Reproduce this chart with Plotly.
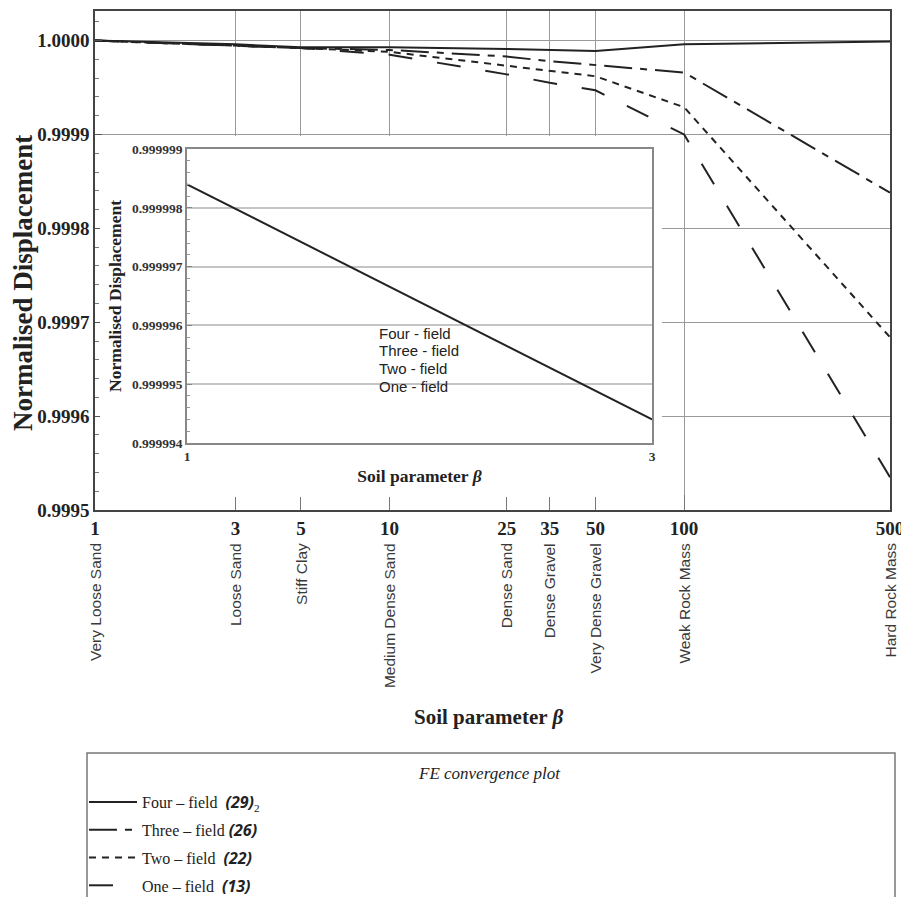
import numpy as np
import plotly.graph_objects as go

W, H = 901, 897

# ---------------- data ----------------
beta = [1, 3, 5, 10, 25, 35, 50, 100, 500]
beta_ticktext = ["1", "3", "5", "10", "25", "35", "50", "100", "500"]
soil_types = ["Very Loose Sand", "Loose Sand", "Stiff Clay", "Medium Dense Sand",
              "Dense Sand", "Dense Gravel", "Very Dense Gravel", "Weak Rock Mass",
              "Hard Rock Mass"]

four_field = [1.000000, 0.999996, 0.999993, 0.999993, 0.999991, 0.999990, 0.999989, 0.999996, 0.999999]
three_field = [1.000000, 0.999995, 0.999992, 0.999990, 0.999983, 0.999978, 0.999974, 0.999966, 0.999838]
two_field = [1.000000, 0.999995, 0.999992, 0.999988, 0.999973, 0.999968, 0.999962, 0.999929, 0.999684]
one_field = [1.000000, 0.999995, 0.999992, 0.999985, 0.999964, 0.999955, 0.999947, 0.999900, 0.999535]

y_tickvals = [0.9995, 0.9996, 0.9997, 0.9998, 0.9999, 1.0000]
y_ticktext = ["0.9995", "0.9996", "0.9997", "0.9998", "0.9999", "1.0000"]

inset_beta = [1, 3]
inset_four = [0.9999984, 0.9999944]
inset_yvals = [0.999994, 0.999995, 0.999996, 0.999997, 0.999998, 0.999999]
inset_ytext = ["0.999994", "0.999995", "0.999996", "0.999997", "0.999998", "0.999999"]
inset_names = ["Four - field", "Three - field", "Two - field", "One - field"]

legend_names = [
    "Four \u2013 field  <b><i><span style=\"font-family:Open Sans\">(29)</span></i></b><sub>2</sub>",
    "Three \u2013 field <b><i><span style=\"font-family:Open Sans\">(26)</span></i></b>",
    "Two \u2013 field  <b><i><span style=\"font-family:Open Sans\">(22)</span></i></b>",
    "One \u2013 field  <b><i><span style=\"font-family:Open Sans\">(13)</span></i></b>",
]
series = [four_field, three_field, two_field, one_field]
dashes = ["solid", "28px,8px,7px,8px", "7px,6px", "24px,25px"]

SERIF = "Liberation Serif"
SANS = "Liberation Sans"


def px(x):
    return x / W


def py(y):
    return 1 - y / H


fig = go.Figure()

for name, vals, dash in zip(legend_names, series, dashes):
    fig.add_trace(go.Scatter(
        x=beta, y=vals, mode="lines", name=name, legendgroup=name,
        line=dict(color="#222222", width=2, dash=dash),
        xaxis="x", yaxis="y"))

# cover subplot (white background hiding grid under the inset image)
fig.add_trace(go.Scatter(x=[0.5], y=[0.5], mode="markers", marker=dict(opacity=0),
                         xaxis="x2", yaxis="y2", showlegend=False, hoverinfo="skip"))

# inset
fig.add_trace(go.Scatter(x=inset_beta, y=inset_four, mode="lines", showlegend=False,
                         line=dict(color="#222222", width=2),
                         xaxis="x3", yaxis="y3"))

annotations = []
# rotated soil type labels
for b, s in zip(beta, soil_types):
    annotations.append(dict(
        x=np.log10(b), y=py(541), xref="x", yref="paper", text=s, textangle=-90,
        showarrow=False, xanchor="center", yanchor="top",
        font=dict(family=SANS, size=15.5, color="#3a3a3a")))

# main axis titles
annotations.append(dict(x=px(488), y=py(717), xref="paper", yref="paper",
                        text="<b>Soil parameter <i>\u03b2</i></b>", showarrow=False,
                        xanchor="center", yanchor="middle",
                        font=dict(family=SERIF, size=21, color="#222222")))
annotations.append(dict(x=px(23), y=py(283), xref="paper", yref="paper",
                        text="<b>Normalised Displacement</b>", showarrow=False,
                        textangle=-90, xanchor="center", yanchor="middle",
                        font=dict(family=SERIF, size=27, color="#222222")))

# inset labels
for i, t in enumerate(inset_names):
    annotations.append(dict(x=px(377), y=py(333 + 17.7 * i), xref="paper", yref="paper",
                            text=t, showarrow=False, xanchor="left", yanchor="middle",
                            font=dict(family=SANS, size=15, color="#222222")))

# legend title
annotations.append(dict(x=px(490), y=py(773), xref="paper", yref="paper",
                        text="<i>FE convergence plot</i>", showarrow=False,
                        xanchor="center", yanchor="middle",
                        font=dict(family=SERIF, size=17, color="#222222")))

shapes = [dict(type="rect", xref="paper", yref="paper",
               x0=px(87), x1=px(895), y0=py(753), y1=py(905),
               line=dict(color="#777777", width=1.5), fillcolor="rgba(0,0,0,0)")]

fig.update_layout(
    width=W, height=H,
    margin=dict(l=0, r=0, t=0, b=0, autoexpand=False),
    paper_bgcolor="white", plot_bgcolor="white",
    xaxis=dict(
        type="log", range=[0, np.log10(500)], automargin=False,
        domain=[px(95), px(890)], anchor="y",
        tickmode="array", tickvals=beta,
        ticktext=["<b>%s</b>" % t for t in beta_ticktext],
        ticklabeloverflow="allow",
        tickfont=dict(family=SERIF, size=19, color="#222222"),
        ticks="inside", ticklen=15, tickcolor="#777777",
        showgrid=True, gridcolor="#999999", gridwidth=1,
        showline=True, linecolor="#444444", linewidth=1.5, mirror=True,
        zeroline=False),
    yaxis=dict(
        range=[0.9995, 1.0000315], automargin=False,
        domain=[py(510), py(11)], anchor="x",
        tickmode="array", tickvals=y_tickvals,
        ticktext=["<b>%s</b>" % t for t in y_ticktext],
        ticklabeloverflow="allow",
        tickfont=dict(family=SERIF, size=19, color="#222222"),
        ticks="inside", ticklen=7, tickcolor="#555555",
        minor=dict(dtick=2e-5, tick0=0.9995, ticks="inside", ticklen=4,
                   tickcolor="#777777", showgrid=False),
        showgrid=True, gridcolor="#999999", gridwidth=1,
        showline=True, linecolor="#444444", linewidth=1.5, mirror=True,
        zeroline=False),
    xaxis2=dict(domain=[px(100), px(662)], anchor="y2", visible=False,
                range=[0, 1], automargin=False),
    yaxis2=dict(domain=[py(497), py(136)], anchor="x2", visible=False,
                range=[0, 1], automargin=False),
    xaxis3=dict(
        domain=[px(187), px(652)], anchor="y3", range=[1, 3], automargin=False,
        tickmode="array", tickvals=inset_beta,
        ticktext=["<b>1</b>", "<b>3</b>"],
        tickfont=dict(family=SERIF, size=13.5, color="#333333"),
        ticks="", showgrid=False,
        showline=True, linecolor="#888888", linewidth=1.5, mirror=True,
        zeroline=False,
        title=dict(text="<b>Soil parameter <i>\u03b2</i></b>", standoff=7,
                   font=dict(family=SERIF, size=17.5, color="#222222"))),
    yaxis3=dict(
        domain=[py(443), py(149)], anchor="x3", range=[0.999994, 0.999999],
        automargin=False,
        tickmode="array", tickvals=inset_yvals,
        ticktext=["<b>%s</b>" % t for t in inset_ytext],
        tickfont=dict(family=SERIF, size=13.5, color="#333333"),
        ticks="inside", ticklen=5, tickcolor="#888888",
        minor=dict(dtick=2e-7, tick0=0.999994, ticks="inside", ticklen=3,
                   tickcolor="#999999", showgrid=False),
        showgrid=True, gridcolor="#c4c4c4", gridwidth=1.5,
        showline=True, linecolor="#888888", linewidth=1.5, mirror=True,
        zeroline=False,
        title=dict(text="<b>Normalised Displacement</b>", standoff=6,
                   font=dict(family=SERIF, size=17.5, color="#222222"))),
    legend=dict(x=px(84), y=py(785), xanchor="left", yanchor="top",
                bgcolor="rgba(0,0,0,0)", borderwidth=0,
                traceorder="grouped", tracegroupgap=4, itemwidth=48,
                font=dict(family=SERIF, size=16, color="#222222")),
    showlegend=True,
    annotations=annotations,
    shapes=shapes,
)

fig.write_html(
    "out.html",
    config={"displayModeBar": False},
    post_script="document.body.style.margin='0';document.body.style.padding='0';")
